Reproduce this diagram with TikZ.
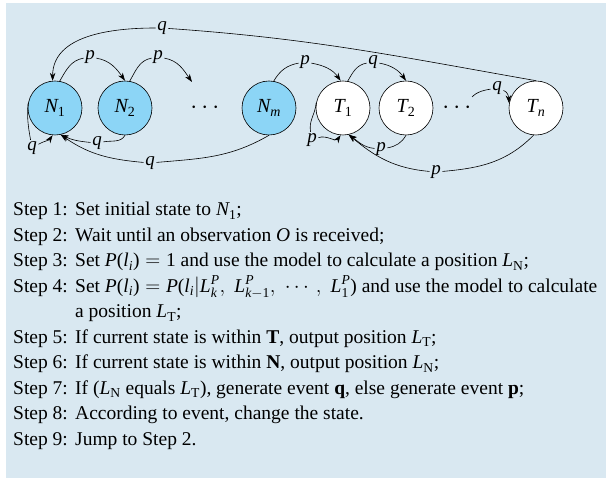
\documentclass[tikz,border=0pt]{standalone}
\usepackage{amsmath}
\usepackage{fontspec}
\setmainfont{Liberation Serif}
\usetikzlibrary{arrows.meta}
\definecolor{panelblue}{RGB}{217,232,241}
\definecolor{nodeblue}{RGB}{140,213,246}
\newcommand{\mi}[1]{\textit{#1}}
\newcommand{\md}[1]{\textup{#1}}
\newcommand{\stp}[1]{\makebox[62pt][l]{Step #1:}}

\begin{document}
\begin{tikzpicture}[x=1pt, y=1pt,
  state/.style={circle, draw=black, line width=0.6pt, minimum size=54pt, inner sep=0pt, font=\fontsize{20}{24}\selectfont},
  nstate/.style={state, fill=nodeblue},
  tstate/.style={state, fill=white},
  lbl/.style={inner sep=1.5pt, font=\fontsize{19}{22}\selectfont},
  conn/.style={line width=0.6pt},
  arr/.style={conn, -{Stealth[length=8pt, width=5.5pt]}},
  stepline/.style={anchor=base west, inner sep=0pt, font=\fontsize{19.5}{23}\selectfont}]
  \useasboundingbox (0,0) rectangle (606,-486);
  \fill[panelblue] (6,-3) rectangle (606,-478);

  % states
  \node[nstate] (N1) at (55,-108) {$\mi{N}_{\md{1}}$};
  \node[nstate] (N2) at (125,-108) {$\mi{N}_{\md{2}}$};
  \node[font=\fontsize{25}{28}\selectfont] (dN) at (207,-108) {$\cdots$};
  \node[nstate] (Nm) at (269,-108) {$\mi{N}_{\mi{m}}$};
  \node[tstate] (T1) at (343,-108) {$\mi{T}_{\md{1}}$};
  \node[tstate] (T2) at (406,-108) {$\mi{T}_{\md{2}}$};
  \node[font=\fontsize{25}{28}\selectfont] (dT) at (459,-108) {$\cdots$};
  \node[tstate] (Tn) at (536,-108) {$\mi{T}_{\mi{n}}$};

  % event labels
  \node[lbl] (lq0) at (162,-28) {$\mi{q}$};
  \node[lbl] (lp1) at (90,-57) {$\mi{p}$};
  \node[lbl] (lp2) at (158,-57) {$\mi{p}$};
  \node[lbl] (lp3) at (305,-62) {$\mi{p}$};
  \node[lbl] (lq1) at (373,-62) {$\mi{q}$};
  \node[lbl] (lq2) at (497,-88) {$\mi{q}$};
  \node[lbl] (lq3) at (32,-148) {$\mi{q}$};
  \node[lbl] (lq4) at (97,-143) {$\mi{q}$};
  \node[lbl] (lq5) at (150,-163) {$\mi{q}$};
  \node[lbl] (lp4) at (312,-140) {$\mi{p}$};
  \node[lbl] (lp5) at (381,-149) {$\mi{p}$};
  \node[lbl] (lp6) at (436,-172) {$\mi{p}$};
  \coordinate (e1) at (192,-82);
  \coordinate (e2) at (472,-97);

  % transitions on top
  \draw[conn] (Tn.north) to[out=170, in=-4] (lq0);
  \draw[arr] (lq0) to[out=180, in=90] (N1.95);
  \draw[conn] (N1.80) to[out=60, in=190] (lp1);
  \draw[arr] (lp1) to[out=-10, in=125] (N2.north);
  \draw[conn] (N2.80) to[out=60, in=190] (lp2);
  \draw[arr] (lp2) to[out=-10, in=125] (e1);
  \draw[conn] (Nm.80) to[out=60, in=190] (lp3);
  \draw[arr] (lp3) to[out=-10, in=125] (T1.95);
  \draw[conn] (T1.80) to[out=60, in=190] (lq1);
  \draw[arr] (lq1) to[out=-10, in=125] (T2.north);
  \draw[conn] (e2) to[out=45, in=190] (lq2);
  \draw[arr] (lq2) to[out=-20, in=95] (Tn.170);

  % transitions below
  \draw[conn] (N1.170) to[out=265, in=100] (lq3);
  \draw[arr] (lq3) to[out=30, in=235] (N1.265);
  \draw[conn] (N2.south) to[out=-120, in=10] (lq4);
  \draw[arr] (lq4) to[out=175, in=-25] (N1.282);
  \draw[conn] (Nm.south) to[out=-150, in=5] (lq5);
  \draw[arr] (lq5) to[out=175, in=-35] (N1.282);
  \draw[conn] (T1.170) to[out=265, in=100] (lp4);
  \draw[arr] (lp4) to[out=20, in=235] (T1.265);
  \draw[conn] (T2.south) to[out=-120, in=10] (lp5);
  \draw[arr] (lp5) to[out=175, in=-35] (T1.282);
  \draw[conn] (Tn.265) to[out=-135, in=5] (lp6);
  \draw[arr] (lp6) to[out=175, in=-40] (T1.282);

  % algorithm
  \node[stepline] (s1) at (13,-216) {\stp{1}Set initial state to $\mi{N}_{\md{1}}$;};
  \node[stepline] (s2) at (13,-241.5) {\stp{2}Wait until an observation $\mi{O}$ is received;};
  \node[stepline] (s3) at (13,-267) {\stp{3}Set $\mi{P}\md{(}\mi{l}_{\mi{i}}\md{)} = \md{1}$ and use the model to calculate a position $\mi{L}_{\md{N}}$;};
  \node[stepline] (s4) at (13,-292.5) {\stp{4}Set $\mi{P}\md{(}\mi{l}_{\mi{i}}\md{)} = \mi{P}\md{(}\mi{l}_{\mi{i}}|\mi{L}^{\mi{P}}_{\mi{k}},\; \mi{L}^{\mi{P}}_{\mi{k}-\md{1}},\; \cdots,\; \mi{L}^{\mi{P}}_{\md{1}}\md{)}$ and use the model to calculate};
  \node[stepline] (s4b) at (13,-318) {\hspace*{62pt}a position $\mi{L}_{\md{T}}$;};
  \node[stepline] (s5) at (13,-343.5) {\stp{5}If current state is within \textbf{T}, output position $\mi{L}_{\md{T}}$;};
  \node[stepline] (s6) at (13,-369) {\stp{6}If current state is within \textbf{N}, output position $\mi{L}_{\md{N}}$;};
  \node[stepline] (s7) at (13,-394.5) {\stp{7}If ($\mi{L}_{\md{N}}$ equals $\mi{L}_{\md{T}}$), generate event \textbf{q}, else generate event \textbf{p};};
  \node[stepline] (s8) at (13,-420) {\stp{8}According to event, change the state.};
  \node[stepline] (s9) at (13,-445.5) {\stp{9}Jump to Step 2.};
\end{tikzpicture}
\end{document}
